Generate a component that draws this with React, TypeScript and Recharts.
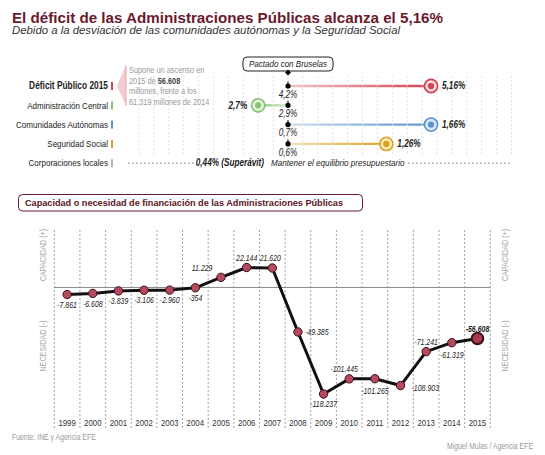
import React from 'react';
import {
  ScatterChart, Scatter, LineChart, Line, XAxis, YAxis,
  ReferenceLine, ReferenceArea, LabelList,
} from 'recharts';

// ---------- data ----------
const years = [1999, 2000, 2001, 2002, 2003, 2004, 2005, 2006, 2007, 2008, 2009, 2010, 2011, 2012, 2013, 2014, 2015];
const balance = [-7861, -6608, -3839, -3106, -2960, -354, 11229, 22144, 21620, -49385, -118237, -101445, -101265, -108903, -71241, -61319, -56608];

const rowNames = ['Déficit Público 2015', 'Administración Central', 'Comunidades Autónomas', 'Seguridad Social', 'Corporaciones locales'];
const targets = [4.2, 2.9, 0.7, 0.6, 0];
const actuals = [5.16, 2.7, 1.66, 1.26, -0.44];

// ---------- styles ----------
const SANS = "'Liberation Sans',Arial,Helvetica,sans-serif";
const SQ = 0.82; // horizontal condensing of the narrow texts
const MAROON = '#6b1a2c';
const rowColors = ['#d2414f', '#86c270', '#5a92d2', '#dca11f', '#b5b5b5'];
const rowPale = ['#f7d6d9', '#e3f2dc', '#d9e7f7', '#f9eab9', '#eeeeee'];
// label placement for the yearly series (style only)
const labelPlace = ['b', 'b', 'b', 'b', 'b', 'b', 'la', 'a', 'ar', 'r', 'b', 'al', 'bb', 'rb', 'a', 'bb', 'a'];

const fmtPct = (v: number) => String(v).replace('.', ',');
const fmtThousands = (n: number) => {
  const s = Math.abs(n).toString().replace(/\B(?=(\d{3})+(?!\d))/g, '.');
  return (n < 0 ? '-' : '') + s;
};

const lineData = years.map((y, i) => ({ year: y, v: balance[i] }));
const devs = actuals.map((a, i) => +(a - targets[i]).toFixed(2));
const targetPts = rowNames.map((name, i) => ({ x: 0, row: i, name, target: targets[i], actual: actuals[i] }));
const actualPts = rowNames.slice(0, 4).map((name, i) => ({ x: devs[i], row: i, name, target: targets[i], actual: actuals[i] }));
const gridXs: number[] = [];
for (let k = -10; k <= 15; k++) gridXs.push(k / 10);

// condensed text helper (real SVG text, squeezed horizontally)
const NT = ({ x, y, anchor = 'start', size = 10, bold = false, italic = false, fill = '#222', rotate = 0, baseline = 'central', children }: any) => (
  <g transform={`translate(${x},${y})${rotate ? ` rotate(${rotate})` : ''} scale(${SQ},1)`}>
    <text x={0} y={0} textAnchor={anchor} dominantBaseline={baseline} fontFamily={SANS} fontSize={size}
      fontWeight={bold ? 'bold' : 'normal'} fontStyle={italic ? 'italic' : 'normal'} fill={fill}>
      {children}
    </text>
  </g>
);

// ---------- top chart shapes ----------
const RowTick = (p: any) => {
  const i = p.payload.value;
  return (
    <g>
      <NT x={p.x - 7} y={p.y} anchor="end" size={i === 0 ? 10.2 : 9.8} bold={i === 0}>{rowNames[i]}</NT>
      <rect x={p.x - 4} y={p.y - 4} width={2} height={8} fill={rowColors[i]} />
    </g>
  );
};

const TargetShape = (p: any) => {
  const { cx, cy, payload } = p;
  if (payload.row === 4) {
    return (
      <g>
        <line x1={cx - 160} x2={cx - 93} y1={cy} y2={cy} stroke="#777" strokeDasharray="2 2" strokeWidth={0.8} />
        <NT x={cx - 24} y={cy} anchor="end" size={10} bold italic>{fmtPct(-payload.actual)}% (Superávit)</NT>
        <NT x={cx - 17} y={cy} size={9.9} italic>Mantener el equilibrio presupuestario</NT>
        <line x1={cx + 120} x2={cx + 222} y1={cy} y2={cy} stroke="#777" strokeDasharray="2 2" strokeWidth={0.8} />
      </g>
    );
  }
  return (
    <g>
      <line x1={cx} x2={cx} y1={cy - 4.5} y2={cy} stroke="#000" strokeWidth={1} />
      <circle cx={cx} cy={cy} r={2.6} fill="#000" />
      <NT x={cx} y={cy + 8.5} anchor="middle" size={10} italic>{fmtPct(payload.target)}%</NT>
    </g>
  );
};

const ActualShape = (p: any) => {
  const { cx, cy, payload } = p;
  const i = payload.row;
  const right = payload.x >= 0;
  return (
    <g>
      <circle cx={cx} cy={cy} r={6.6} fill={rowPale[i]} stroke={rowColors[i]} strokeWidth={1.6} />
      <circle cx={cx} cy={cy} r={3.1} fill={rowColors[i]} />
      <NT x={right ? cx + 11 : cx - 11} y={cy} anchor={right ? 'start' : 'end'} size={10} bold italic>
        {fmtPct(payload.actual)}%
      </NT>
    </g>
  );
};

// ---------- bottom chart shapes ----------
const YearTick = (p: any) => (
  <NT x={p.x} y={p.y - 5} anchor="middle" size={9.6} fill="#333">{p.payload.value}</NT>
);

const renderDot = (p: any) => {
  const last = p.index === years.length - 1;
  return (
    <circle key={`d${p.index}`} cx={p.cx} cy={p.cy} r={last ? 5.8 : 4.2}
      fill={last ? '#a83a4f' : '#b5495d'} stroke="#3a0f18" strokeWidth={last ? 2 : 1} />
  );
};

const renderLabel = (p: any) => {
  const { x, y, value, index } = p;
  const place = labelPlace[index];
  let dx = 0, dy = 10.5, anchor = 'middle';
  if (place === 'bb') { dy = 13; }
  if (place === 'a') { dy = -9.5; }
  if (place === 'al') { dy = -9.5; dx = -5; }
  if (place === 'ar') { dy = -9.5; dx = -2; }
  if (place === 'la') { dy = -9; dx = -8.5; anchor = 'end'; }
  if (place === 'r') { dy = 0; dx = 7; anchor = 'start'; }
  if (place === 'rb') { dy = 3; dx = 11; anchor = 'start'; }
  const last = index === years.length - 1;
  return (
    <g key={`l${index}`}>
      <NT x={x + dx} y={y + dy} anchor={anchor} size={8.5} italic bold={last}>{fmtThousands(value)}</NT>
    </g>
  );
};

export default function App() {
  return (
    <div style={{ position: 'absolute', left: 0, top: 0, width: 545, height: 455, background: '#fff', overflow: 'hidden' }}>
      {/* top deviation chart */}
      <div style={{ position: 'absolute', left: 0, top: 0 }}>
        <ScatterChart width={545} height={180} margin={{ top: 0, right: 0, bottom: 0, left: 0 }}>
          <defs>
            {rowColors.map((c, i) => (
              <linearGradient key={i} id={`conn${i}`} x1={devs[i] >= 0 ? 0 : 1} x2={devs[i] >= 0 ? 1 : 0} y1={0} y2={0}>
                <stop offset="0" stopColor={c} stopOpacity={0.3} />
                <stop offset="1" stopColor={c} stopOpacity={1} />
              </linearGradient>
            ))}
          </defs>
          <XAxis type="number" dataKey="x" domain={[-1.16107, 1.72483]} allowDataOverflow hide />
          <YAxis type="number" dataKey="row" domain={[-4.456, 4.87]} allowDataOverflow reversed
            ticks={[0, 1, 2, 3, 4]} interval={0} width={115} axisLine={false} tickLine={false}
            tickSize={0} tickMargin={0} tick={<RowTick />} />
          {gridXs.map((gx) => (
            <ReferenceLine key={gx} segment={[{ x: gx, y: -0.52 }, { x: gx, y: 3.58 }]}
              stroke="#e2e2e2" strokeDasharray="2 2" ifOverflow="visible" />
          ))}
          {devs.slice(0, 4).map((d, i) => (
            <ReferenceArea key={i} x1={Math.min(0, d)} x2={Math.max(0, d)} y1={i - 0.06} y2={i + 0.06}
              fill={`url(#conn${i})`} fillOpacity={1} stroke="none" ifOverflow="visible" />
          ))}
          <Scatter data={targetPts} shape={TargetShape} isAnimationActive={false} />
          <Scatter data={actualPts} shape={ActualShape} isAnimationActive={false} />
        </ScatterChart>
      </div>

      {/* bottom line chart */}
      <div style={{ position: 'absolute', left: 0, top: 0 }}>
        <LineChart width={545} height={455} data={lineData} margin={{ top: 228, right: 54.7, bottom: 0, left: 54.3 }}>
          <XAxis type="number" dataKey="year" domain={[1998.5, 2015.5]} allowDataOverflow ticks={years}
            interval={0} height={27} axisLine={false} tickLine={false} tickSize={0} tickMargin={0} tick={<YearTick />} />
          <YAxis type="number" domain={[-156000, 66000]} allowDataOverflow hide />
          {years.concat([2016]).map((yr) => (
            <ReferenceLine key={yr} x={yr - 0.5} stroke="#8a8a8a" strokeDasharray="2 2" strokeWidth={0.8} ifOverflow="visible" />
          ))}
          <ReferenceLine y={0} stroke="#8a8a8a" strokeWidth={1} />
          <Line type="linear" dataKey="v" stroke="#111" strokeWidth={3} strokeLinejoin="round"
            dot={renderDot} activeDot={false} isAnimationActive={false}>
            <LabelList dataKey="v" content={renderLabel} />
          </Line>
        </LineChart>
      </div>

      {/* static texts */}
      <svg width={545} height={455} style={{ position: 'absolute', left: 0, top: 0, pointerEvents: 'none' }}>
        <text x={12} y={22.5} fontFamily={SANS} fontWeight="bold" fontSize={14.2} fill={MAROON}
          textLength={431} lengthAdjust="spacingAndGlyphs">
          El déficit de las Administraciones Públicas alcanza el 5,16%
        </text>
        <text x={12} y={33.5} fontFamily={SANS} fontStyle="italic" fontSize={10.4} fill="#333"
          textLength={388} lengthAdjust="spacingAndGlyphs">
          Debido a la desviación de las comunidades autónomas y la Seguridad Social
        </text>

        {/* annotation */}
        <polygon points="117,86 126,65 126,106" fill="#f4cbd0" />
        <line x1={126} x2={126} y1={65} y2={106} stroke="#e6a6ae" strokeWidth={1} />
        <NT x={129} y={73} size={9} fill="#9a9a9a" baseline="auto">Supone un ascenso en</NT>
        <NT x={129} y={83.5} size={9} fill="#9a9a9a" baseline="auto">
          2015 de <tspan fontWeight="bold" fill="#444">{fmtThousands(-balance[16])}</tspan>
        </NT>
        <NT x={129} y={94} size={9} fill="#9a9a9a" baseline="auto">millones, frente a los</NT>
        <NT x={129} y={104.5} size={9} fill="#9a9a9a" baseline="auto">{fmtThousands(-balance[15])} millones de 2014</NT>

        {/* Pactado con Bruselas */}
        <rect x={243} y={57} width={90} height={14} rx={4} fill="#fff" stroke="#222" strokeWidth={1} />
        <NT x={288} y={64} anchor="middle" size={9.8} italic>Pactado con Bruselas</NT>
        <polygon points="288,69.5 291,72.5 288,75.5 285,72.5" fill="#000" />

        {/* section header */}
        <rect x={18.5} y={194.5} width={344} height={16.5} rx={4} fill="none" stroke={MAROON} strokeWidth={1} />
        <text x={25} y={203} dominantBaseline="central" fontFamily={SANS} fontWeight="bold" fontSize={9}
          fill="#5a1424" textLength={318} lengthAdjust="spacingAndGlyphs">
          Capacidad o necesidad de financiación de las Administraciones Públicas
        </text>

        {/* side labels */}
        <NT x={43} y={255} rotate={-90} anchor="middle" size={8.8} fill="#a5a5a5">CAPACIDAD (+)</NT>
        <NT x={43} y={346} rotate={-90} anchor="middle" size={8.8} fill="#a5a5a5">NECESIDAD (-)</NT>
        <NT x={505} y={255} rotate={-90} anchor="middle" size={8.8} fill="#a5a5a5">CAPACIDAD (+)</NT>
        <NT x={505} y={346} rotate={-90} anchor="middle" size={8.8} fill="#a5a5a5">NECESIDAD (-)</NT>

        {/* footer */}
        <NT x={12} y={439.5} size={8.4} fill="#999" baseline="auto">Fuente: INE y Agencia EFE</NT>
        <NT x={533} y={449} anchor="end" size={8.4} fill="#999" baseline="auto">Miguel Mulas / Agencia EFE</NT>
      </svg>
    </div>
  );
}
